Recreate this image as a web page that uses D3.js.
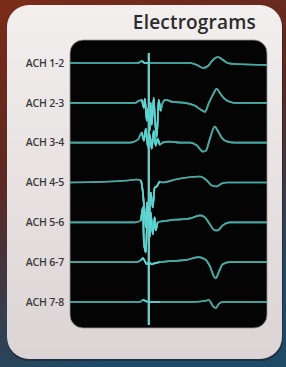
<!DOCTYPE html>
<html>
<head>
<meta charset="utf-8">
<script src="https://cdn.jsdelivr.net/npm/d3@7"></script>
<style>
  html, body { margin: 0; padding: 0; background: #3a2a30; }
  svg { display: block; }
</style>
</head>
<body>
<div id="chart"></div>
<script>
// channel labels (top to bottom)
const channels = ['ACH 1-2', 'ACH 2-3', 'ACH 3-4', 'ACH 4-5', 'ACH 5-6', 'ACH 6-7', 'ACH 7-8'];

// samples per channel: [time ms, amplitude mV]
const ach12 = [[0,0],[69,0],[73,0.2],[76,0],[81,0],[122,0],[129,-0.2],[135,-0.5],[140,-0.3],[145,0.3],[150,0.6],[154,0.4],[160,0],[167,-0.1],[200,-0.2]];
const ach23 = [[0,0],[66,0],[70,0.2],[73,0.3],[75,-0.5],[76,0.4],[78,-1.8],[79,-0.6],[81,-2.8],[82,0],[83,-2.2],[85,0.5],[86,-1.2],[88,-3.4],[89,-1.8],[90,0.3],[92,-0.8],[94,0],[97,0.3],[104,0.1],[117,0],[127,-0.3],[133,-0.7],[137,-0.9],[141,0],[145,0.8],[149,1.4],[152,1.0],[157,0.4],[162,0.1],[167,0],[200,0]];
const ach34 = [[0,0],[61,0],[69,0.3],[73,1.0],[75,0.2],[77,1.4],[79,-0.4],[81,0.8],[83,-0.6],[85,1.2],[87,-0.3],[89,0.4],[91,-0.2],[94,0],[101,0.1],[112,0],[122,0],[129,-0.3],[135,-0.9],[138,-0.8],[142,0.4],[147,1.6],[150,1.2],[154,0.5],[160,0.1],[167,0],[200,0]];
const ach45 = [[0,0],[59,0.2],[67,0.3],[72,0.2],[74,-1.0],[76,-3.5],[77,-4.5],[78,-2.0],[80,-4.0],[82,-1.0],[84,-2.5],[86,-0.5],[88,-0.4],[91,0.1],[94,0],[107,0.3],[119,0.5],[132,0.6],[139,0.2],[144,-0.3],[149,-0.4],[154,-0.1],[160,0],[200,0]];
const ach56 = [[0,0],[66,0],[72,0.2],[74,1.5],[75,-2.0],[77,-3.0],[78,-0.5],[79,2.0],[81,-1.5],[82,1.0],[84,-1.2],[86,0.5],[87,-0.8],[89,0],[93,0.1],[101,0.2],[112,0.3],[122,0.4],[132,0.7],[137,0.5],[142,-0.2],[147,-0.8],[150,-0.8],[155,-0.3],[162,0],[200,0]];
const ach67 = [[0,0],[67,0],[72,0.2],[74,0.4],[76,0.1],[78,-0.2],[80,0],[83,-0.2],[86,-0.1],[91,0],[101,0.1],[117,0.2],[130,0.5],[137,0.3],[142,-0.4],[146,-1.4],[148,-1.6],[151,-1.0],[155,-0.2],[162,0],[200,0]];
const ach78 = [[0,0],[71,0],[74,0.2],[77,0.1],[80,0],[91,0],[122,0],[137,0.1],[141,0.2],[145,-0.4],[148,-0.6],[151,-0.2],[155,0],[200,0]];
const series = [ach12, ach23, ach34, ach45, ach56, ach67, ach78];

// pacing marker time (ms)
const markerTime = 80;

const W = 286, H = 367;
const svg = d3.select('#chart').append('svg')
    .attr('width', W)
    .attr('height', H);

const defs = svg.append('defs');
const bg = defs.append('linearGradient').attr('id', 'bg')
    .attr('x1', 0).attr('y1', 0).attr('x2', 0.3).attr('y2', 1);
bg.append('stop').attr('offset', '0%').attr('stop-color', '#7a2c18');
bg.append('stop').attr('offset', '45%').attr('stop-color', '#5c2822');
bg.append('stop').attr('offset', '100%').attr('stop-color', '#1f4a66');

const panelGrad = defs.append('linearGradient').attr('id', 'panel')
    .attr('x1', 0).attr('y1', 0).attr('x2', 0).attr('y2', 1);
panelGrad.append('stop').attr('offset', '0%').attr('stop-color', '#f3efef');
panelGrad.append('stop').attr('offset', '100%').attr('stop-color', '#dcd4d4');

const glow = defs.append('filter').attr('id', 'glow')
    .attr('x', '-10%').attr('y', '-10%').attr('width', '120%').attr('height', '120%');
glow.append('feGaussianBlur').attr('stdDeviation', 0.6).attr('result', 'b');
const merge = glow.append('feMerge');
merge.append('feMergeNode').attr('in', 'b');
merge.append('feMergeNode').attr('in', 'SourceGraphic');

// background + panel
svg.append('rect').attr('width', W).attr('height', H).attr('fill', 'url(#bg)');
svg.append('rect')
    .attr('x', 7).attr('y', 7).attr('width', 276).attr('height', 354)
    .attr('rx', 22).attr('fill', '#1a1a22').attr('opacity', 0.5);
svg.append('rect')
    .attr('x', 7).attr('y', 5).attr('width', 275).attr('height', 354)
    .attr('rx', 22).attr('fill', 'url(#panel)');

// title
svg.append('text')
    .attr('x', 256).attr('y', 29)
    .attr('text-anchor', 'end')
    .attr('font-family', 'Open Sans, sans-serif')
    .attr('font-weight', 600)
    .attr('font-size', 19)
    .attr('letter-spacing', 0.2)
    .attr('fill', '#2b2b2b')
    .text('Electrograms');

// screen
const screen = { left: 70, right: 267, top: 40, bottom: 328 };
svg.append('rect')
    .attr('x', screen.left).attr('y', screen.top)
    .attr('width', screen.right - screen.left).attr('height', screen.bottom - screen.top)
    .attr('rx', 13)
    .attr('fill', '#040404')
    .attr('stroke', '#9a9696').attr('stroke-width', 0.8);

// scales
const x = d3.scaleLinear().domain([0, 200]).range([screen.left, screen.right]);
const yBase = d3.scalePoint().domain(channels).range([63, 302]);
const amp = d3.scaleLinear().domain([-2, 2]).range([20, -20]);

// labels
svg.append('g')
    .selectAll('text')
    .data(channels)
    .enter()
    .append('text')
    .attr('x', 64)
    .attr('y', (d) => yBase(d))
    .attr('dy', '0.36em')
    .attr('text-anchor', 'end')
    .attr('font-family', 'Open Sans, sans-serif')
    .attr('font-weight', 600)
    .attr('font-size', 10.5)
    .attr('letter-spacing', -0.2)
    .attr('fill', '#383838')
    .text((d) => d);

const clip = defs.append('clipPath').attr('id', 'scr');
clip.append('rect')
    .attr('x', screen.left).attr('y', screen.top)
    .attr('width', screen.right - screen.left).attr('height', screen.bottom - screen.top)
    .attr('rx', 13);

const traces = svg.append('g').attr('clip-path', 'url(#scr)').attr('filter', 'url(#glow)');

// marker line
traces.append('line')
    .attr('x1', x(markerTime)).attr('x2', x(markerTime))
    .attr('y1', yBase(channels[0]) - 10)
    .attr('y2', yBase(channels[channels.length - 1]) + 23)
    .attr('stroke', '#74cbc8')
    .attr('stroke-width', 2);

const line = d3.line()
    .x((d) => x(d[0]))
    .y((d) => amp(d[1]))
    .curve(d3.curveMonotoneX);

traces.selectAll('path.trace')
    .data(series)
    .enter()
    .append('path')
    .attr('class', 'trace')
    .attr('transform', (d, i) => 'translate(0,' + yBase(channels[i]) + ')')
    .attr('d', (d) => line(d))
    .attr('fill', 'none')
    .attr('stroke', '#48a9a2')
    .attr('stroke-width', 1.7)
    .attr('stroke-linejoin', 'round');

// brighter fractionated part around the marker
traces.selectAll('path.frac')
    .data(series)
    .enter()
    .append('path')
    .attr('class', 'frac')
    .attr('transform', (d, i) => 'translate(0,' + yBase(channels[i]) + ')')
    .attr('d', (d) => line(d.filter((p) => p[0] >= 72 && p[0] <= 92)))
    .attr('fill', 'none')
    .attr('stroke', '#5fd6d6')
    .attr('stroke-width', 1.5)
    .attr('stroke-linejoin', 'round');
</script>
</body>
</html>
